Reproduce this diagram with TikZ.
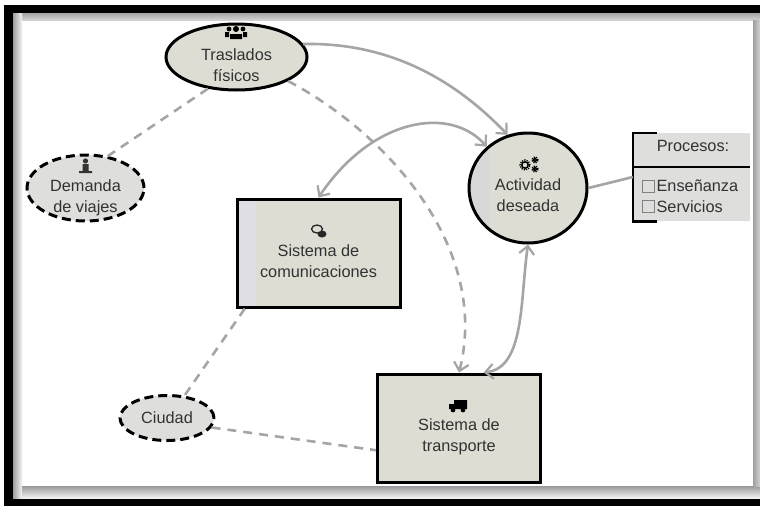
\documentclass[tikz,border=0pt]{standalone}
\usepackage{fontspec}
\setmainfont{Liberation Sans}
\usetikzlibrary{shapes.geometric,arrows.meta,calc}
\definecolor{nodefill}{RGB}{221,221,212}
\definecolor{softfill}{RGB}{222,222,220}
\definecolor{stripfill}{RGB}{222,222,228}
\definecolor{roundstrip}{RGB}{216,216,216}
\definecolor{linkgray}{RGB}{165,165,165}
\definecolor{labeltext}{RGB}{50,50,50}
\tikzset{
  labelfont/.style={font=\fontsize{16.3}{21}\selectfont, text=labeltext, align=center},
  sysbox/.style={draw, line width=3pt, fill=nodefill, minimum width=163pt, minimum height=108pt, inner sep=0pt, labelfont},
  mainell/.style={ellipse, draw, line width=3pt, fill=nodefill, inner sep=0pt, labelfont},
  dashell/.style={ellipse, draw, line width=3pt, dash pattern=on 9pt off 5pt, fill=softfill, inner sep=0pt, labelfont},
  link/.style={draw=linkgray, line width=2.6pt},
  dlink/.style={link, dash pattern=on 9pt off 7pt},
  tip/.tip={Straight Barb[length=8pt,width=15pt,line width=2.2pt]},
  check/.style={draw=gray, line width=.8pt, minimum size=12pt, inner sep=0pt}
}
\begin{document}
\begin{tikzpicture}[x=1pt,y=-1pt]
  \useasboundingbox (0,0) rectangle (760,506);
  \fill[white] (0,0) rectangle (760,506);
  \shade[top color=gray!70, bottom color=gray!35] (13,13) rectangle (760,20);
  \shade[left color=gray!75, right color=gray!8] (13,13) rectangle (22,499);
  \shade[top color=gray!80, bottom color=gray!5] (22,486) rectangle (760,499);
  \shade[left color=gray!75, right color=gray!35] (753,20) rectangle (760,486);
  \fill[black] (4,5) rectangle (760,13);
  \fill[black] (4,5) rectangle (13,506);
  \fill[black] (4,499) rectangle (760,506);

  \node[mainell, inner sep=-15pt, minimum width=141pt, minimum height=66pt] (TF) at (236.5,57) {\\[7pt]Traslados\\físicos};
  \node[dashell, inner sep=-15pt, minimum width=117pt, minimum height=66pt] (DV) at (85.5,188) {\\[10pt]Demanda\\de viajes};
  \node[dashell, minimum width=94pt, minimum height=45pt] (CI) at (167,418) {Ciudad};
  \node[mainell, inner sep=-15pt, minimum width=118pt, minimum height=110pt,
    path picture={\fill[roundstrip] (path picture bounding box.north west) rectangle ++(21,110);}] (AD) at (528,188) {\\[6pt]Actividad\\deseada};
  \node[sysbox, path picture={\fill[stripfill] (path picture bounding box.north west) rectangle ++(19,108);}] (SC) at (318.5,253) {\\[8pt]Sistema de\\comunicaciones};
  \node[sysbox] (ST) at (459,428) {\\[8pt]Sistema de\\transporte};

  \node[fill=softfill, minimum width=117pt, minimum height=88pt, inner sep=0pt] (PR) at (691.5,177) {};
  \draw[line width=2.6pt] ($(PR.north west)+(24,0)$) -- (PR.north west) -- (PR.south west) -- ++(24,0);
  \draw[line width=2.6pt] (PR.west |- 0,167) -- (PR.east |- 0,167);
  \node[labelfont] (PT) at (693,146) {Procesos:};
  \node[check] (C1) at (648.5,186) {};
  \node[check] (C2) at (648.5,206.5) {};
  \node[labelfont, anchor=west, inner sep=0pt] (E1) at ($(C1.east)+(1.5,0)$) {Enseñanza};
  \node[labelfont, anchor=west, inner sep=0pt] (E2) at ($(C2.east)+(1.5,0)$) {Servicios};

  \draw[link, -tip] (TF.11) .. controls (395,42) and (460,85) .. (AD.111);
  \draw[link, tip-tip] (AD.135) .. controls (450,105) and (372,118) .. (SC.north);
  \draw[link, tip-tip] (AD.south) .. controls (520,300) and (525,368) .. (ST.66);
  \draw[link] (AD.east) -- (PR.west);
  \draw[dlink, -tip] (TF.-25) .. controls (390,135) and (490,250) .. (ST.north);
  \draw[dlink] (TF.-132) -- (DV.55);
  \draw[dlink] (SC.-143) -- (CI.52);
  \draw[dlink] (CI.-12) -- (ST.-165);

  % icons
  \fill[black] (236,29) circle (3pt) (229,29) circle (2.4pt) (243,29) circle (2.4pt);
  \fill[black] (230,39) rectangle (242,34) (225,37) rectangle (229,32) (243,37) rectangle (247,32);
  \fill[black!80] (85.5,161) circle (2.6pt) (82.5,164) rectangle (88.5,171) (79,171) rectangle (92,173);
  \fill[black!85] (322,234) ellipse (4.5pt and 3.5pt);
  \draw[black!85, line width=1.3pt, fill=nodefill] (317,229) ellipse (5.5pt and 4pt);
  \draw[black, line width=1.5pt] (525,165) circle (3.2pt) (535,160) circle (1.6pt) (535,169) circle (1.6pt);
  \draw[black, line width=1.4pt, dash pattern=on 1.2pt off 1.2pt] (525,165) circle (5pt) (535,160) circle (3pt) (535,169) circle (3pt);
  \fill[black] (454,400) rectangle (467,409) (449,404) rectangle (454,409);
  \fill[black] (453,410) circle (2.4pt) (463,410) circle (2.4pt);
\end{tikzpicture}
\end{document}
